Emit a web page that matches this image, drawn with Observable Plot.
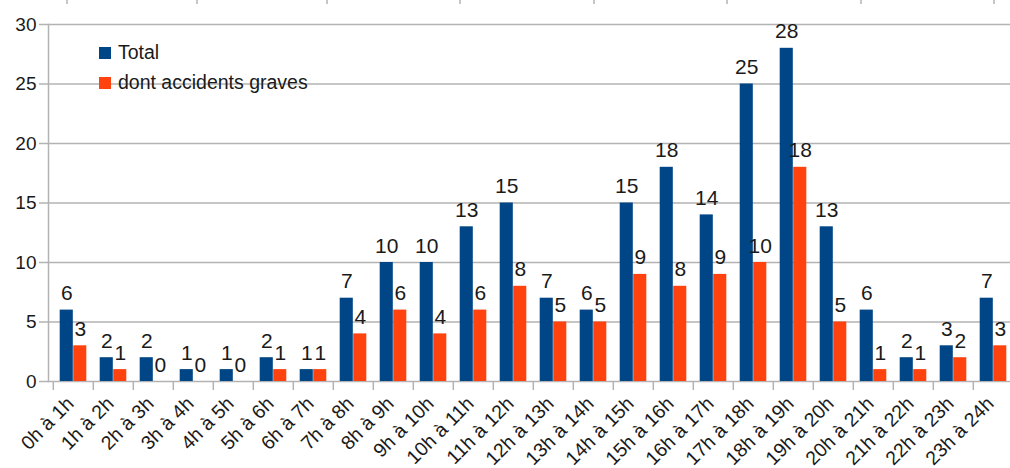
<!DOCTYPE html>
<html><head><meta charset="utf-8">
<script src="https://cdn.jsdelivr.net/npm/d3@7"></script>
<script src="https://cdn.jsdelivr.net/npm/@observablehq/plot@0.6"></script>
<style>
html,body{margin:0;padding:0;background:#fff;overflow:hidden;width:1010px;height:468px}
#chart{position:relative;width:1010px;height:468px;overflow:hidden;font-family:"Liberation Sans",Arial,sans-serif}
#chart > svg{max-width:none !important;width:1018px !important;height:468px !important;display:block}
.legend{position:absolute;left:99px;font-size:19.5px;color:#1a1a1a;line-height:22px;white-space:nowrap}
.legend .sw{display:inline-block;width:12px;height:12px;margin-right:7px;vertical-align:0px}
#topmarks{position:absolute;left:0;top:0}
</style></head><body><div id="chart"></div>
<script>
const categories = ["0h à 1h","1h à 2h","2h à 3h","3h à 4h","4h à 5h","5h à 6h","6h à 7h","7h à 8h","8h à 9h","9h à 10h","10h à 11h","11h à 12h","12h à 13h","13h à 14h","14h à 15h","15h à 16h","16h à 17h","17h à 18h","18h à 19h","19h à 20h","20h à 21h","21h à 22h","22h à 23h","23h à 24h"];
const total = [6,2,2,1,1,2,1,7,10,10,13,15,7,6,15,18,14,25,28,13,6,2,3,7];
const graves = [3,1,0,0,0,1,1,4,6,4,6,8,5,5,9,8,9,10,18,5,1,1,2,3];
const seriesNames = ["Total","dont accidents graves"];
const seriesColors = ["#004586","#ff420e"];
const yTicks = [0,5,10,15,20,25,30];

const dTotal = categories.map((c,i)=>({cat:c, series:seriesNames[0], value:total[i]}));
const dGraves = categories.map((c,i)=>({cat:c, series:seriesNames[1], value:graves[i]}));

const font = "'Liberation Sans', Arial, sans-serif";
const ink = "#1a1a1a";
const grid = "#b3b3b3";
const axisFs = 19;
const valueFs = 21;

const chart = Plot.plot({
  width: 1018,
  height: 468,
  marginLeft: 48,
  marginRight: 0,
  marginTop: 24,
  marginBottom: 87,
  style: {fontFamily: font, fontSize: axisFs + "px", color: ink, background: "#fff", overflow: "visible", maxWidth: "none"},
  x: {domain: categories, padding: 0},
  y: {domain: [0, 30]},
  color: {domain: seriesNames, range: seriesColors},
  marks: [
    Plot.gridY(yTicks, {stroke: grid, strokeOpacity: 1, strokeWidth: 1.5}),
    Plot.axisY(yTicks, {tickSize: 9, tickPadding: 3, stroke: grid, strokeOpacity: 1, strokeWidth: 1.5, fill: ink, fontSize: axisFs, label: null}),
    Plot.ruleX(categories, {x: d => d, y1: 0, y2: 0, dx: -20.21, insetBottom: -9, stroke: grid, strokeWidth: 1.5}),
    Plot.frame({anchor: "left", stroke: grid, strokeWidth: 1.5}),
    Plot.barY(dTotal, {x: "cat", y: "value", fill: "series", insetLeft: 6.7, insetRight: 20.2}),
    Plot.barY(dGraves, {x: "cat", y: "value", fill: "series", insetLeft: 20.2, insetRight: 6.7}),
    Plot.text(dTotal, {x: "cat", y: "value", text: d => String(d.value), dx: -6.75, dy: -10, lineAnchor: "bottom", fill: ink, fontSize: valueFs}),
    Plot.text(dGraves, {x: "cat", y: "value", text: d => String(d.value), dx: 6.75, dy: -10, lineAnchor: "bottom", fill: ink, fontSize: valueFs}),
    Plot.axisX({tickRotate: -45, tickSize: 0, tickPadding: 19, dx: -3, fill: ink, fontSize: 19.5, label: null})
  ]
});
const host = document.getElementById("chart");
host.appendChild(chart);

// legend
const legendTop = [41, 71];
seriesNames.forEach((n,i)=>{
  const d = document.createElement("div");
  d.className = "legend";
  d.style.top = legendTop[i] + "px";
  d.innerHTML = `<span class="sw" style="background:${seriesColors[i]}"></span>${n}`;
  host.appendChild(d);
});

// small cut-off tick marks along the top edge
const ns = "http://www.w3.org/2000/svg";
const marksSvg = document.createElementNS(ns, "svg");
marksSvg.setAttribute("id","topmarks"); marksSvg.setAttribute("width","1010"); marksSvg.setAttribute("height","6");
[67,197,327,460,594,727,861,994].forEach(x=>{
  const l = document.createElementNS(ns,"line");
  l.setAttribute("x1",x); l.setAttribute("x2",x); l.setAttribute("y1",0); l.setAttribute("y2",4);
  l.setAttribute("stroke",grid); l.setAttribute("stroke-width","1.5");
  marksSvg.appendChild(l);
});
host.appendChild(marksSvg);
</script></body></html>
